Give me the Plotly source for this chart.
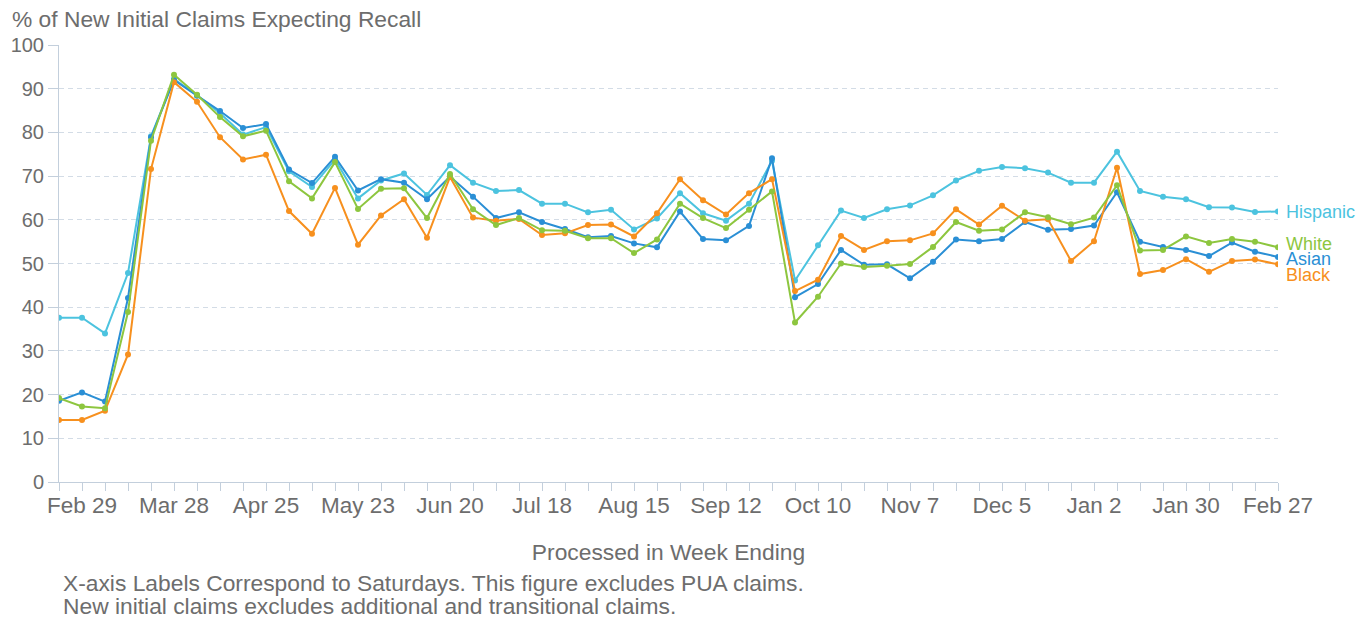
import pandas as pd
import plotly.graph_objects as go

# ---------------- data ----------------
week_ending = pd.date_range("2020-02-22", periods=54, freq="7D")

hispanic = [37.6, 37.6, 34.0, 47.8, 79.1, 92.2, 88.5, 84.4, 79.5, 81.2, 71.1, 67.5, 73.8, 64.9,
            69.0, 70.6, 65.7, 72.5, 68.5, 66.6, 66.8, 63.7, 63.7, 61.7, 62.3, 57.8, 60.3, 66.1,
            61.5, 59.8, 63.7, 73.5, 46.1, 54.2, 62.1, 60.4, 62.4, 63.3, 65.6, 69.0, 71.2, 72.1,
            71.8, 70.8, 68.5, 68.5, 75.6, 66.6, 65.3, 64.7, 62.9, 62.8, 61.8, 61.9]
asian = [18.6, 20.5, 18.4, 42.1, 78.9, 92.0, 88.4, 84.9, 81.0, 81.9, 71.5, 68.4, 74.4, 66.7,
         69.3, 68.5, 64.7, 69.9, 65.3, 60.4, 61.7, 59.5, 57.9, 56.0, 56.3, 54.6, 53.7, 61.9,
         55.6, 55.3, 58.6, 74.1, 42.3, 45.3, 53.1, 49.7, 49.8, 46.6, 50.4, 55.5, 55.1, 55.6,
         59.5, 57.7, 57.9, 58.7, 66.3, 55.0, 53.8, 53.1, 51.7, 54.8, 52.7, 51.5]
white = [19.2, 17.3, 16.9, 38.9, 78.1, 93.2, 88.6, 83.5, 79.1, 80.4, 68.8, 64.9, 73.2, 62.5,
         67.1, 67.2, 60.4, 70.5, 62.4, 58.8, 60.4, 57.6, 57.5, 55.8, 55.8, 52.4, 55.5, 63.7,
         60.4, 58.1, 62.3, 66.5, 36.5, 42.4, 50.0, 49.2, 49.5, 49.9, 53.8, 59.5, 57.5, 57.8,
         61.7, 60.6, 59.0, 60.5, 67.9, 53.0, 53.1, 56.2, 54.7, 55.6, 55.0, 53.7]
black = [14.2, 14.2, 16.3, 29.2, 71.6, 91.5, 87.0, 78.9, 73.8, 74.9, 62.0, 56.8, 67.3, 54.3,
         61.0, 64.7, 55.9, 69.8, 60.5, 59.8, 60.2, 56.5, 56.9, 58.8, 58.9, 56.2, 61.5, 69.3,
         64.5, 61.2, 66.1, 69.3, 43.7, 46.3, 56.3, 53.1, 55.1, 55.3, 56.9, 62.4, 58.9, 63.2,
         59.8, 60.1, 50.6, 55.1, 71.9, 47.6, 48.5, 51.0, 48.1, 50.6, 50.9, 49.8]

tick_dates = ["2020-02-29", "2020-03-28", "2020-04-25", "2020-05-23", "2020-06-20", "2020-07-18",
              "2020-08-15", "2020-09-12", "2020-10-10", "2020-11-07", "2020-12-05", "2021-01-02",
              "2021-01-30", "2021-02-27"]
tick_labels = ["Feb 29", "Mar 28", "Apr 25", "May 23", "Jun 20", "Jul 18", "Aug 15", "Sep 12",
               "Oct 10", "Nov 7", "Dec 5", "Jan 2", "Jan 30", "Feb 27"]

series = [
    ("Hispanic", hispanic, "#4cc3df", 0),
    ("Asian", asian, "#2a8fd5", -2),
    ("Black", black, "#f7901e", -11),
    ("White", white, "#8dc63f", 3),
]

FONT = "Liberation Sans, Arial, sans-serif"
TXT = "#6d6d6d"
AXIS = "#c3cfdc"
GRID = "#d3dce6"

fig = go.Figure()
for name, vals, color, _ in series:
    fig.add_trace(go.Scatter(
        x=week_ending, y=vals, name=name, mode="lines+markers",
        line=dict(color=color, width=2),
        marker=dict(color=color, size=6),
        showlegend=False,
    ))

for name, vals, color, shift in series:
    fig.add_annotation(
        x=week_ending[-1], y=vals[-1], xref="x", yref="y",
        text=name, showarrow=False, xanchor="left", yanchor="middle",
        xshift=6, yshift=shift,
        font=dict(family=FONT, size=18, color=color),
    )

fig.add_annotation(
    x=0, y=1, xref="paper", yref="paper", xanchor="left", yanchor="middle",
    xshift=-49, yshift=26,
    text="% of New Initial Claims Expecting Recall", showarrow=False,
    font=dict(family=FONT, size=22.8, color=TXT),
)
notes = ["X-axis Labels Correspond to Saturdays. This figure excludes PUA claims.",
         "New initial claims excludes additional and transitional claims."]
for k, line in enumerate(notes):
    fig.add_annotation(
        x=0, y=0, xref="paper", yref="paper", xanchor="left", yanchor="middle",
        xshift=2, yshift=-101 - 22.5 * k, align="left",
        text=line, showarrow=False,
        font=dict(family=FONT, size=22.8, color=TXT),
    )

fig.update_layout(
    width=1369, height=618,
    margin=dict(l=51, r=99, t=37, b=143.5),
    paper_bgcolor="white", plot_bgcolor="white",
    font=dict(family=FONT, size=20, color=TXT),
    xaxis=dict(
        type="date", automargin=False,
        range=[week_ending[0], week_ending[-1]],
        tickvals=tick_dates, ticktext=tick_labels,
        ticks="outside", ticklen=8, tickcolor=AXIS, tickwidth=1,
        ticklabelstandoff=-5,
        showline=True, linecolor=AXIS, linewidth=1,
        showgrid=False, zeroline=False,
        tickfont=dict(family=FONT, size=22.5, color=TXT),
        minor=dict(ticks="outside", ticklen=8, tickcolor=AXIS,
                   tick0="2020-02-22", dtick=7 * 86400000, showgrid=False),
        title=dict(text="Processed in Week Ending", standoff=27,
                   font=dict(family=FONT, size=22.8, color=TXT)),
    ),
    yaxis=dict(
        range=[0, 100], dtick=10, automargin=False,
        ticks="outside", ticklen=10, tickcolor=AXIS,
        showline=True, linecolor=AXIS, linewidth=1,
        showgrid=True, gridcolor=GRID, griddash="5px,4px", gridwidth=1,
        zeroline=False,
        tickfont=dict(family=FONT, size=20, color=TXT),
    ),
)

fig.write_html("out.html")
